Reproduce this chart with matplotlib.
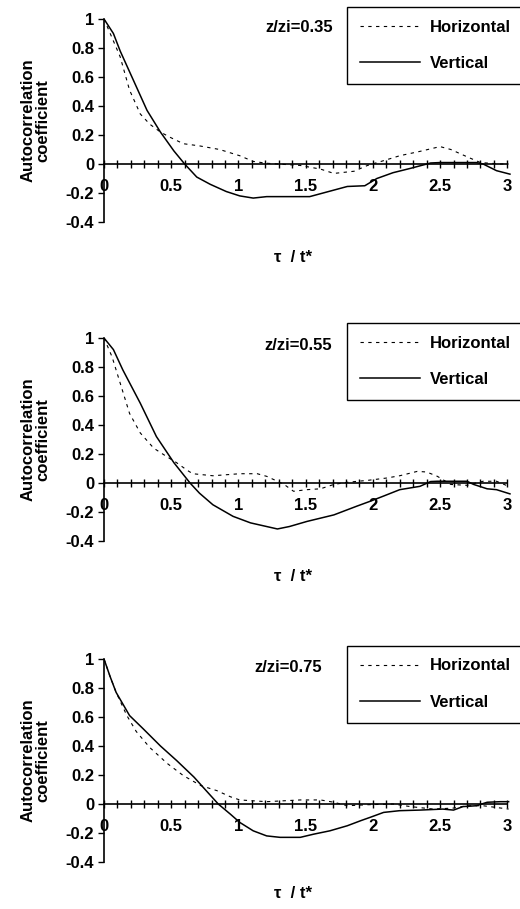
import numpy as np
import matplotlib
matplotlib.use('Agg')
import matplotlib.pyplot as plt

matplotlib.rcParams.update({'font.family': 'Liberation Sans', 'font.size': 12,
                            'font.weight': 'bold', 'axes.labelweight': 'bold'})

# values, one pair of curves per height
levels = ['z/zi=0.35', 'z/zi=0.55', 'z/zi=0.75']

vert_x1 = [0, 0.07, 0.12, 0.22, 0.32, 0.42, 0.52, 0.60, 0.69, 0.79, 0.91, 1.01, 1.11, 1.21,
           1.53, 1.63, 1.81, 1.94, 2.03, 2.15, 2.28, 2.43, 2.5, 2.77, 2.82, 2.92, 3.02]
vert_y1 = [1, 0.90, 0.78, 0.575, 0.37, 0.22, 0.09, 0, -0.09, -0.14, -0.19, -0.22, -0.235, -0.225,
           -0.225, -0.20, -0.155, -0.15, -0.10, -0.06, -0.03, 0.007, 0.01, 0.01, 0, -0.046, -0.07]
hor_x1 = [0, 0.06, 0.12, 0.19, 0.27, 0.34, 0.42, 0.49, 0.59, 0.71, 0.86, 1.01, 1.11, 1.21,
          1.46, 1.61, 1.71, 1.86, 1.96, 2.08, 2.2, 2.35, 2.5, 2.58, 2.7, 2.8, 2.95, 3.01]
hor_y1 = [1, 0.87, 0.74, 0.51, 0.345, 0.275, 0.22, 0.185, 0.14, 0.125, 0.10, 0.057, 0.018, 0.005,
          -0.01, -0.035, -0.065, -0.05, -0.01, 0.023, 0.057, 0.087, 0.12, 0.10, 0.05, 0.01, 0, 0]

vert_x2 = [0, 0.07, 0.14, 0.27, 0.39, 0.52, 0.64, 0.71, 0.81, 0.96, 1.09, 1.29, 1.38, 1.51,
           1.71, 1.88, 1.98, 2.08, 2.2, 2.35, 2.43, 2.48, 2.7, 2.75, 2.85, 2.92, 3.02]
vert_y2 = [1, 0.92, 0.78, 0.55, 0.32, 0.14, 0, -0.07, -0.15, -0.23, -0.275, -0.317, -0.30, -0.265,
           -0.22, -0.16, -0.126, -0.09, -0.046, -0.023, 0.01, 0.012, 0.012, -0.01, -0.04, -0.046, -0.075]
hor_x2 = [0, 0.06, 0.12, 0.19, 0.27, 0.37, 0.47, 0.54, 0.62, 0.66, 0.81, 1.01, 1.14, 1.21, 1.29,
          1.34, 1.41, 1.51, 1.61, 1.71, 1.81, 1.96, 2.1, 2.2, 2.33, 2.4, 2.48, 2.58, 2.7, 2.82, 2.92, 3.01]
hor_y2 = [1, 0.87, 0.69, 0.48, 0.345, 0.24, 0.18, 0.14, 0.087, 0.064, 0.05, 0.064, 0.064, 0.046, 0.012,
          -0.01, -0.057, -0.046, -0.04, -0.01, 0.005, 0.018, 0.034, 0.05, 0.08, 0.076, 0.046, -0.01,
          -0.016, 0.012, 0.012, -0.023]

vert_x3 = [0, 0.045, 0.09, 0.19, 0.29, 0.42, 0.54, 0.67, 0.76, 0.85, 0.94, 1.01, 1.11, 1.21, 1.31,
           1.46, 1.56, 1.68, 1.81, 1.91, 1.98, 2.08, 2.2, 2.35, 2.52, 2.6, 2.67, 2.77, 2.85, 2.95, 3.01]
vert_y3 = [1, 0.88, 0.77, 0.61, 0.52, 0.40, 0.30, 0.185, 0.092, 0, -0.07, -0.127, -0.185, -0.22, -0.23,
           -0.23, -0.208, -0.185, -0.15, -0.115, -0.092, -0.058, -0.046, -0.042, -0.035, -0.042,
           -0.018, -0.012, 0.012, 0.016, 0.016]
hor_x3 = [0, 0.045, 0.09, 0.17, 0.24, 0.34, 0.47, 0.59, 0.72, 0.84, 0.94, 1.01, 1.21, 1.46, 1.61,
          1.71, 1.81, 1.96, 2.15, 2.28, 2.45, 2.6, 2.7, 2.82, 3.01]
hor_y3 = [1, 0.88, 0.77, 0.61, 0.50, 0.39, 0.28, 0.196, 0.127, 0.092, 0.05, 0.028, 0.016, 0.028, 0.028,
          0.012, -0.012, -0.005, 0, -0.018, -0.035, -0.028, -0.012, -0.012, -0.035]

panels = [(vert_x1, vert_y1, hor_x1, hor_y1),
          (vert_x2, vert_y2, hor_x2, hor_y2),
          (vert_x3, vert_y3, hor_x3, hor_y3)]

# layout in pixels (top of axes, legend top, label x position)
ax_tops = [19, 338, 659]
leg_tops = [7, 323, 646]
lvl_x = [1.2, 1.19, 1.12]
xlab_y = [-0.14, -0.14, -0.12]

W, H = 520, 909
fig = plt.figure(figsize=(W / 100, H / 100), dpi=100)

for i, (vx, vy, hx, hy) in enumerate(panels):
    ax = fig.add_axes([104 / W, 1 - (ax_tops[i] + 203) / H, 410 / W, 203 / H])
    ax.plot(hx, hy, color='black', lw=0.8, ls=(0, (3, 4)), label='Horizontal')
    ax.plot(vx, vy, color='black', lw=1.1, label='Vertical')
    ax.set_xlim(0, 3.05)
    ax.set_ylim(-0.4, 1)

    for s in ['top', 'right']:
        ax.spines[s].set_visible(False)
    ax.spines['bottom'].set_position(('data', 0))
    ax.spines['bottom'].set_bounds(0, 3)
    ax.spines['left'].set_bounds(-0.4, 1)
    ax.spines['bottom'].set_linewidth(1.2)
    ax.spines['left'].set_linewidth(1.2)

    ax.set_xticks([0, 0.5, 1, 1.5, 2, 2.5, 3])
    ax.set_xticklabels(['0', '0.5', '1', '1.5', '2', '2.5', '3'])
    ax.set_xticks(np.arange(0, 3.01, 0.1), minor=True)
    ax.tick_params(axis='x', which='both', direction='inout', length=6, width=1, pad=8)
    ax.set_yticks([-0.4, -0.2, 0, 0.2, 0.4, 0.6, 0.8, 1])
    ax.set_yticklabels(['-0.4', '-0.2', '0', '0.2', '0.4', '0.6', '0.8', '1'])
    ax.tick_params(axis='y', direction='out', length=4, width=1, pad=3)

    ax.set_ylabel('Autocorrelation\ncoefficient', linespacing=1.0)
    ax.yaxis.set_label_coords(-0.13, 0.5)
    ax.set_xlabel('τ  / t*')
    ax.xaxis.set_label_coords(0.46, xlab_y[i])

    ax.text(lvl_x[i], 1 - 8 / 203 * 1.4, levels[i], va='center', ha='left')

    leg = ax.legend(loc='upper left', bbox_to_anchor=(347 / W, 1 - leg_tops[i] / H),
                    bbox_transform=fig.transFigure, fancybox=False, edgecolor='black',
                    handlelength=3.6, handletextpad=0.6, labelspacing=1.3,
                    borderpad=0.75, borderaxespad=0, framealpha=1)
    leg.get_frame().set_linewidth(1.0)

fig.savefig('out.png', dpi=100)
